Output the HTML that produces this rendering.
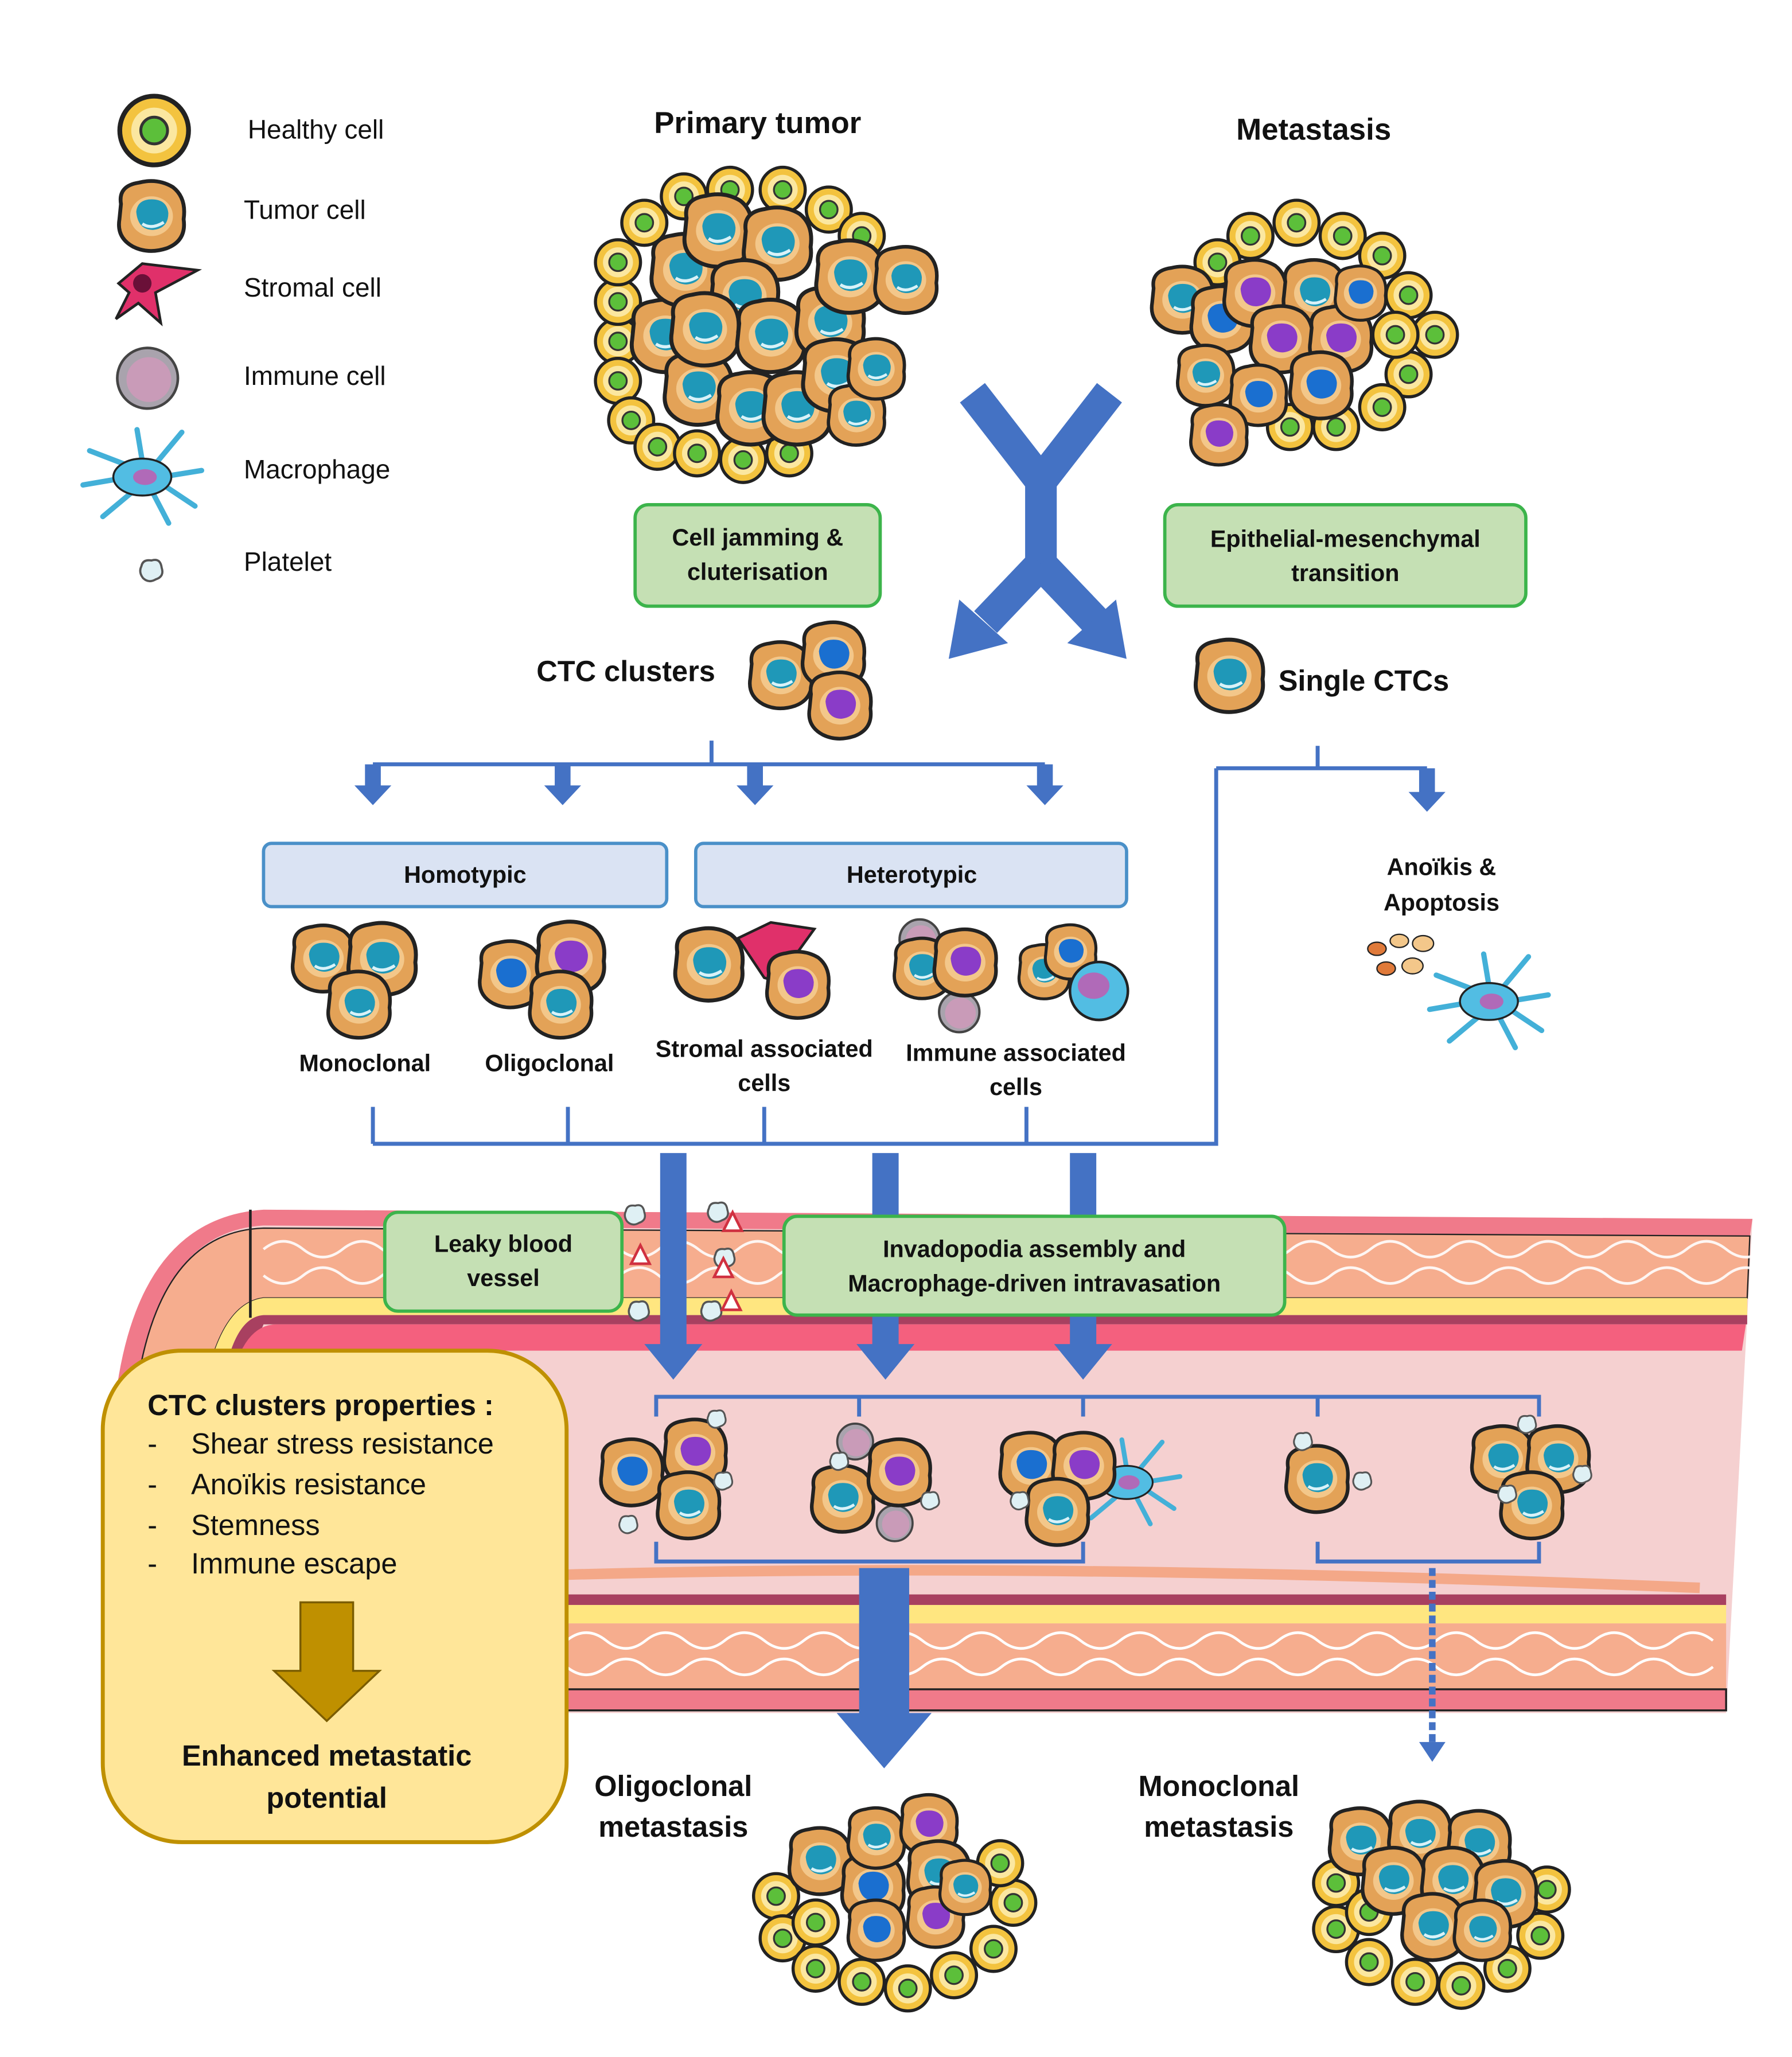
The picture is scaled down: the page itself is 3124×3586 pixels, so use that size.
<!DOCTYPE html>
<html><head><meta charset="utf-8"><style>html,body{margin:0;padding:0;background:#fff}svg{display:block}text{font-family:"Liberation Sans",sans-serif;fill:#111}</style></head>
<body>
<svg width="3124" height="3586" viewBox="0 0 1360 1561" xmlns="http://www.w3.org/2000/svg">
<defs>
<symbol id="h" viewBox="-20 -20 40 40"><circle r="18" fill="#f3c33f" stroke="#222" stroke-width="2.5"/><circle r="12" fill="#fbe7a0"/><circle r="7" fill="#5cbf3a" stroke="#333" stroke-width="1.5"/></symbol>
<symbol id="t" viewBox="-25 -25 50 50"><path d="M-20,-8 Q-22,-20 -8,-22 Q4,-25 14,-19 Q23,-12 21,2 Q23,16 10,21 Q-2,25 -12,20 Q-23,14 -21,2 Z" fill="#e3a257" stroke="#222" stroke-width="2.5"/><ellipse cx="0" cy="0" rx="14" ry="13" fill="#f3c78a"/><path d="M-10,-3 Q-9,-11 0,-11 Q10,-11 11,-2 Q11,8 1,9 Q-9,9 -10,-3Z" fill="#1f98b8"/><path d="M-6,5 Q0,9 8,4" stroke="#d9f2f8" stroke-width="2" fill="none"/></symbol>
<symbol id="tb" viewBox="-25 -25 50 50"><path d="M-20,-8 Q-22,-20 -8,-22 Q4,-25 14,-19 Q23,-12 21,2 Q23,16 10,21 Q-2,25 -12,20 Q-23,14 -21,2 Z" fill="#e3a257" stroke="#222" stroke-width="2.5"/><ellipse cx="0" cy="0" rx="14" ry="13" fill="#f3c78a"/><path d="M-10,-3 Q-9,-11 0,-11 Q10,-11 11,-2 Q11,8 1,9 Q-9,9 -10,-3Z" fill="#1a6fd0"/></symbol>
<symbol id="tp" viewBox="-25 -25 50 50"><path d="M-20,-8 Q-22,-20 -8,-22 Q4,-25 14,-19 Q23,-12 21,2 Q23,16 10,21 Q-2,25 -12,20 Q-23,14 -21,2 Z" fill="#e3a257" stroke="#222" stroke-width="2.5"/><ellipse cx="0" cy="0" rx="14" ry="13" fill="#f3c78a"/><path d="M-10,-3 Q-9,-11 0,-11 Q10,-11 11,-2 Q11,8 1,9 Q-9,9 -10,-3Z" fill="#8a3cc8"/></symbol>
<symbol id="im" viewBox="-20 -20 40 40"><circle r="17" fill="#a9a3ad" stroke="#444" stroke-width="2"/><circle r="13" cx="1" cy="1" fill="#c99bb8"/></symbol>
<symbol id="pl" viewBox="-10 -10 20 20"><path d="M-7,-3 Q-6,-8 0,-7 Q6,-9 7,-2 Q9,4 3,6 Q-2,9 -6,5 Q-9,1 -7,-3Z" fill="#dff0f4" stroke="#555" stroke-width="1.5"/></symbol>
<symbol id="mac" viewBox="-50 -40 100 80"><path d="M-14,-10 L-40,-20 M-10,0 L-45,6 M-6,10 L-30,30 M8,12 L20,35 M14,0 L45,-5 M10,-10 L30,-34 M0,-12 L-4,-36 M16,6 L40,22" stroke="#43b0d8" stroke-width="4" stroke-linecap="round"/><ellipse rx="22" ry="14" fill="#52bde3" stroke="#222" stroke-width="1.5"/><ellipse cx="2" rx="9" ry="6" fill="#b06ab8"/></symbol>
</defs>

<!-- Legend -->
<use href="#h" x="88" y="70" width="58" height="58"/>
<use href="#t" x="86" y="135" width="58" height="58"/>
<path d="M90,215 L108,200 L150,205 L118,222 L122,245 L105,230 L88,242 L98,222Z" fill="#e0306a" stroke="#222" stroke-width="2"/><circle cx="108" cy="215" r="7" fill="#6a1038"/>
<circle cx="112" cy="287" r="23" fill="#a9a3ad" stroke="#444" stroke-width="2"/><circle cx="113" cy="288" r="17" fill="#c99bb8"/>
<use href="#mac" x="58" y="322" width="100" height="80"/>
<use href="#pl" x="104" y="422" width="22" height="22"/>
<g font-size="20"><text x="188" y="105">Healthy cell</text><text x="185" y="166">Tumor cell</text><text x="185" y="225">Stromal cell</text><text x="185" y="292">Immune cell</text><text x="185" y="363">Macrophage</text><text x="185" y="433">Platelet</text></g>

<g font-weight="bold" font-size="23"><text x="575" y="101" text-anchor="middle">Primary tumor</text><text x="997" y="106" text-anchor="middle">Metastasis</text></g>

<!-- Primary tumor -->
<g>
<use href="#h" x="450" y="240" width="38" height="38"/><use href="#h" x="450" y="270" width="38" height="38"/><use href="#h" x="460" y="300" width="38" height="38"/><use href="#h" x="480" y="320" width="38" height="38"/><use href="#h" x="510" y="325" width="38" height="38"/><use href="#h" x="545" y="330" width="38" height="38"/><use href="#h" x="580" y="325" width="38" height="38"/><use href="#h" x="450" y="210" width="38" height="38"/><use href="#h" x="450" y="180" width="38" height="38"/><use href="#h" x="470" y="150" width="38" height="38"/><use href="#h" x="500" y="130" width="38" height="38"/><use href="#h" x="535" y="125" width="38" height="38"/><use href="#h" x="575" y="125" width="38" height="38"/><use href="#h" x="610" y="140" width="38" height="38"/><use href="#h" x="635" y="160" width="38" height="38"/>
<use href="#t" x="475" y="225" width="60" height="60"/><use href="#t" x="500" y="265" width="60" height="60"/><use href="#t" x="540" y="280" width="60" height="60"/><use href="#t" x="575" y="280" width="60" height="60"/><use href="#t" x="490" y="175" width="60" height="60"/><use href="#t" x="515" y="145" width="60" height="60"/><use href="#t" x="560" y="155" width="60" height="60"/><use href="#t" x="535" y="195" width="60" height="60"/><use href="#t" x="505" y="220" width="60" height="60"/><use href="#t" x="555" y="225" width="60" height="60"/><use href="#t" x="600" y="215" width="60" height="60"/><use href="#t" x="615" y="180" width="60" height="60"/><use href="#t" x="605" y="255" width="60" height="60"/><use href="#t" x="625" y="290" width="50" height="50"/><use href="#t" x="640" y="255" width="50" height="50"/><use href="#t" x="660" y="185" width="55" height="55"/>
</g>
<!-- Metastasis -->
<g>
<use href="#h" x="930" y="160" width="38" height="38"/><use href="#h" x="965" y="150" width="38" height="38"/><use href="#h" x="1000" y="160" width="38" height="38"/><use href="#h" x="1030" y="175" width="38" height="38"/><use href="#h" x="1050" y="205" width="38" height="38"/><use href="#h" x="1070" y="235" width="38" height="38"/><use href="#h" x="1050" y="265" width="38" height="38"/><use href="#h" x="1030" y="290" width="38" height="38"/><use href="#h" x="995" y="305" width="38" height="38"/><use href="#h" x="960" y="305" width="38" height="38"/><use href="#h" x="905" y="180" width="38" height="38"/><use href="#h" x="1040" y="235" width="38" height="38"/>
<use href="#t" x="870" y="200" width="55" height="55"/><use href="#tb" x="900" y="215" width="55" height="55"/><use href="#tp" x="925" y="195" width="55" height="55"/><use href="#t" x="970" y="195" width="55" height="55"/><use href="#tp" x="945" y="230" width="55" height="55"/><use href="#tp" x="990" y="230" width="55" height="55"/><use href="#tb" x="975" y="265" width="55" height="55"/><use href="#t" x="890" y="260" width="50" height="50"/><use href="#tb" x="930" y="275" width="50" height="50"/><use href="#tp" x="900" y="305" width="50" height="50"/><use href="#tb" x="1010" y="200" width="45" height="45"/>
</g>

<g fill="#c5e0b4" stroke="#3cb44b" stroke-width="2.5"><rect x="482" y="383" width="186" height="77" rx="10"/><rect x="884" y="383" width="274" height="77" rx="10"/></g>
<g font-weight="bold" font-size="18" text-anchor="middle"><text x="575" y="414">Cell jamming &amp;</text><text x="575" y="440">cluterisation</text><text x="1021" y="415">Epithelial-mesenchymal</text><text x="1021" y="441">transition</text></g>

<g stroke="#4472c4" stroke-width="24" fill="none" stroke-linejoin="miter"><path d="M738,298 L790,365 L842,298"/><path d="M790,360 L790,430"/><path d="M790,428 L748,472 M790,428 L832,472"/></g>
<g fill="#4472c4"><path d="M720,500 L728,455 L765,488Z"/><path d="M855,500 L847,455 L810,488Z"/></g>

<text x="475" y="517" font-weight="bold" font-size="22" text-anchor="middle">CTC clusters</text>
<use href="#t" x="565" y="485" width="55" height="55"/><use href="#tb" x="605" y="470" width="55" height="55"/><use href="#tp" x="610" y="508" width="55" height="55"/>
<use href="#t" x="903" y="483" width="60" height="60"/>
<text x="1035" y="524" font-weight="bold" font-size="22" text-anchor="middle">Single CTCs</text>

<g stroke="#4472c4" stroke-width="3" fill="none"><path d="M540,562 V580 M283,580 H793 M1000,566 V583 M923,583 H1083 M923,583 V868 H283 M283,840 V868 M431,840 V868 M580,840 V868 M779,840 V868"/></g>
<g fill="#4472c4"><path d="M277,580 h12 v16 h8 l-14,15 l-14,-15 h8z"/><path d="M421,580 h12 v16 h8 l-14,15 l-14,-15 h8z"/><path d="M567,580 h12 v16 h8 l-14,15 l-14,-15 h8z"/><path d="M787,580 h12 v16 h8 l-14,15 l-14,-15 h8z"/><path d="M1077,583 h12 v18 h8 l-14,15 l-14,-15 h8z"/></g>

<g fill="#dae3f3" stroke="#4a90c8" stroke-width="2.5"><rect x="200" y="640" width="306" height="48" rx="6"/><rect x="528" y="640" width="327" height="48" rx="6"/></g>
<g font-weight="bold" font-size="18" text-anchor="middle"><text x="353" y="670">Homotypic</text><text x="692" y="670">Heterotypic</text>
<text x="277" y="813">Monoclonal</text><text x="417" y="813">Oligoclonal</text><text x="580" y="802">Stromal associated</text><text x="580" y="828">cells</text><text x="771" y="805">Immune associated</text><text x="771" y="831">cells</text><text x="1094" y="664">Anoïkis &amp;</text><text x="1094" y="691">Apoptosis</text></g>

<use href="#t" x="218" y="700" width="55" height="55"/><use href="#t" x="260" y="698" width="60" height="60"/><use href="#t" x="245" y="735" width="55" height="55"/>
<use href="#tb" x="360" y="712" width="55" height="55"/><use href="#tp" x="403" y="697" width="60" height="60"/><use href="#t" x="398" y="735" width="55" height="55"/>
<path d="M560,712 L585,700 L618,705 L600,730 L615,752 L580,742 Z" fill="#e0306a" stroke="#222" stroke-width="2"/>
<use href="#t" x="508" y="702" width="60" height="60"/><use href="#tp" x="578" y="720" width="55" height="55"/>
<use href="#im" x="680" y="695" width="36" height="36"/><use href="#im" x="710" y="750" width="36" height="36"/><use href="#t" x="675" y="710" width="50" height="50"/><use href="#tp" x="705" y="703" width="55" height="55"/>
<use href="#t" x="770" y="715" width="45" height="45"/><use href="#tb" x="790" y="700" width="45" height="45"/><circle cx="834" cy="752" r="22" fill="#52bde3" stroke="#222" stroke-width="2"/><ellipse cx="830" cy="748" rx="12" ry="10" fill="#b06ab8"/>
<g fill="#e07a3a" stroke="#222" stroke-width="1"><ellipse cx="1045" cy="720" rx="7" ry="5"/><ellipse cx="1062" cy="714" rx="7" ry="5" fill="#f3c78a"/><ellipse cx="1080" cy="716" rx="8" ry="6" fill="#f3c78a"/><ellipse cx="1052" cy="735" rx="7" ry="5"/><ellipse cx="1072" cy="733" rx="8" ry="6" fill="#f3c78a"/></g>
<use href="#mac" x="1075" y="720" width="110" height="80"/>

<!-- Vessel -->
<path d="M85,1090 Q95,925 200,918 L1330,925 L1310,1300 L430,1300 L430,1210 L85,1210Z" fill="#f5d0d0"/>
<path d="M85,1090 Q95,925 200,918 L1330,925 L1328,938 L200,930 Q110,935 100,1090Z" fill="#f07a8a"/>
<path d="M100,1090 Q110,935 200,932 L1328,938 L1326,985 L200,985 Q160,990 150,1090Z" fill="#f6ad8e" stroke="#222" stroke-width="1"/>
<g stroke="#fff" stroke-width="2" fill="none" opacity="0.9"><path d="M200,948 q15,-12 30,0 t30,0 t30,0 t30,0 t30,0 t30,0 t30,0 t30,0 t30,0 t30,0 t30,0 t30,0 t30,0 t30,0 t30,0 t30,0 t30,0 t30,0 t30,0 t30,0 t30,0 t30,0 t30,0 t30,0 t30,0 t30,0 t30,0 t30,0 t30,0 t30,0 t30,0 t30,0 t30,0 t30,0 t30,0 t30,0 t30,0 t30,0"/><path d="M200,968 q15,12 30,0 t30,0 t30,0 t30,0 t30,0 t30,0 t30,0 t30,0 t30,0 t30,0 t30,0 t30,0 t30,0 t30,0 t30,0 t30,0 t30,0 t30,0 t30,0 t30,0 t30,0 t30,0 t30,0 t30,0 t30,0 t30,0 t30,0 t30,0 t30,0 t30,0 t30,0 t30,0 t30,0 t30,0 t30,0 t30,0 t30,0 t30,0"/></g>
<path d="M150,1090 Q160,990 200,985 L1326,985 L1326,998 L200,998 Q170,1000 165,1090Z" fill="#ffe680"/>
<path d="M165,1090 Q170,1000 200,998 L1326,998 L1326,1005 L200,1005Z" fill="#a84060"/>
<path d="M170,1090 Q175,1005 210,1005 L1325,1005 L1322,1025 L220,1025 Q190,1030 185,1090Z" fill="#f4607e"/>
<line x1="190" y1="918" x2="190" y2="1000" stroke="#222" stroke-width="2"/>
<path d="M430,1195 Q800,1185 1290,1205" stroke="#f4a888" stroke-width="8" fill="none"/>
<rect x="430" y="1210" width="880" height="8" fill="#a84060"/>
<rect x="430" y="1218" width="880" height="14" fill="#ffe680"/>
<rect x="430" y="1232" width="880" height="50" fill="#f6ad8e"/>
<g stroke="#fff" stroke-width="2" fill="none"><path d="M430,1245 q15,-12 30,0 t30,0 t30,0 t30,0 t30,0 t30,0 t30,0 t30,0 t30,0 t30,0 t30,0 t30,0 t30,0 t30,0 t30,0 t30,0 t30,0 t30,0 t30,0 t30,0 t30,0 t30,0 t30,0 t30,0 t30,0 t30,0 t30,0 t30,0 t30,0"/><path d="M430,1265 q15,12 30,0 t30,0 t30,0 t30,0 t30,0 t30,0 t30,0 t30,0 t30,0 t30,0 t30,0 t30,0 t30,0 t30,0 t30,0 t30,0 t30,0 t30,0 t30,0 t30,0 t30,0 t30,0 t30,0 t30,0 t30,0 t30,0 t30,0 t30,0 t30,0"/></g>
<rect x="430" y="1282" width="880" height="16" fill="#f07a8a" stroke="#222" stroke-width="1.5"/>

<g><use href="#pl" x="472" y="912" width="20" height="20"/><use href="#pl" x="475" y="985" width="20" height="20"/><use href="#pl" x="535" y="910" width="20" height="20"/><use href="#pl" x="540" y="945" width="20" height="20"/><use href="#pl" x="530" y="985" width="20" height="20"/><path d="M556,920 l7,14 h-14z M549,955 l7,14 h-14z M555,980 l7,14 h-14z M486,945 l7,14 h-14z" fill="#fff" stroke="#d03040" stroke-width="2"/></g>

<!-- thick arrows (behind boxes) -->
<g fill="#4472c4"><path d="M501,875 h20 v145 h12 l-22,27 l-22,-27 h12z"/><path d="M662,875 h20 v145 h12 l-22,27 l-22,-27 h12z"/><path d="M812,875 h20 v145 h12 l-22,27 l-22,-27 h12z"/></g>

<g fill="#c5e0b4" stroke="#3cb44b" stroke-width="2.5"><rect x="292" y="920" width="180" height="75" rx="10"/><rect x="595" y="923" width="380" height="75" rx="10"/></g>
<g font-weight="bold" font-size="18" text-anchor="middle"><text x="382" y="950">Leaky blood</text><text x="382" y="976">vessel</text><text x="785" y="954">Invadopodia assembly and</text><text x="785" y="980">Macrophage-driven intravasation</text></g>

<g stroke="#4472c4" stroke-width="3" fill="none"><path d="M498,1075 V1060 H1168 V1075 M652,1060 V1075 M822,1060 V1075 M1000,1060 V1075 M498,1170 V1185 H822 V1170 M1000,1170 V1185 H1168 V1170"/></g>
<path d="M652,1190 h38 v110 h17 l-36,42 l-36,-42 h17z" fill="#4472c4"/>
<line x1="1087" y1="1190" x2="1087" y2="1325" stroke="#4472c4" stroke-width="5" stroke-dasharray="6,3"/>
<path d="M1077,1322 h20 l-10,15z" fill="#4472c4"/>

<use href="#tb" x="452" y="1090" width="55" height="55"/><use href="#tp" x="500" y="1075" width="55" height="55"/><use href="#t" x="495" y="1115" width="55" height="55"/>
<use href="#im" x="633" y="1078" width="32" height="32"/><use href="#im" x="663" y="1140" width="32" height="32"/><use href="#t" x="612" y="1110" width="55" height="55"/><use href="#tp" x="655" y="1090" width="55" height="55"/>
<use href="#mac" x="810" y="1070" width="90" height="110"/>
<use href="#tb" x="755" y="1085" width="55" height="55"/><use href="#tp" x="795" y="1085" width="55" height="55"/><use href="#t" x="775" y="1120" width="55" height="55"/>
<use href="#t" x="972" y="1095" width="55" height="55"/>
<use href="#t" x="1113" y="1080" width="55" height="55"/><use href="#t" x="1155" y="1080" width="55" height="55"/><use href="#t" x="1135" y="1115" width="55" height="55"/>
<g><use href="#pl" x="535" y="1068" width="18" height="18"/><use href="#pl" x="540" y="1115" width="18" height="18"/><use href="#pl" x="468" y="1148" width="18" height="18"/><use href="#pl" x="628" y="1100" width="18" height="18"/><use href="#pl" x="697" y="1130" width="18" height="18"/><use href="#pl" x="765" y="1130" width="18" height="18"/><use href="#pl" x="980" y="1085" width="18" height="18"/><use href="#pl" x="1025" y="1115" width="18" height="18"/><use href="#pl" x="1150" y="1072" width="18" height="18"/><use href="#pl" x="1192" y="1110" width="18" height="18"/><use href="#pl" x="1135" y="1125" width="18" height="18"/></g>

<rect x="78" y="1025" width="352" height="373" rx="60" fill="#ffe699" stroke="#bf9000" stroke-width="3"/>
<text x="112" y="1074" font-weight="bold" font-size="22">CTC clusters properties :</text>
<g font-size="22"><text x="112" y="1103">-</text><text x="145" y="1103">Shear stress resistance</text><text x="112" y="1134">-</text><text x="145" y="1134">Anoïkis resistance</text><text x="112" y="1165">-</text><text x="145" y="1165">Stemness</text><text x="112" y="1194">-</text><text x="145" y="1194">Immune escape</text></g>
<path d="M228,1216 h40 v52 h20 l-40,38 l-40,-38 h20z" fill="#bf9000" stroke="#7a5c00" stroke-width="1.5"/>
<g font-weight="bold" font-size="22" text-anchor="middle"><text x="248" y="1340">Enhanced metastatic</text><text x="248" y="1372">potential</text>
<text x="511" y="1363">Oligoclonal</text><text x="511" y="1394">metastasis</text><text x="925" y="1363">Monoclonal</text><text x="925" y="1394">metastasis</text></g>

<g>
<use href="#h" x="570" y="1420" width="38" height="38"/><use href="#h" x="575" y="1452" width="38" height="38"/><use href="#h" x="600" y="1475" width="38" height="38"/><use href="#h" x="635" y="1485" width="38" height="38"/><use href="#h" x="670" y="1490" width="38" height="38"/><use href="#h" x="705" y="1480" width="38" height="38"/><use href="#h" x="735" y="1460" width="38" height="38"/><use href="#h" x="750" y="1425" width="38" height="38"/><use href="#h" x="740" y="1395" width="38" height="38"/><use href="#h" x="600" y="1440" width="38" height="38"/>
<use href="#t" x="595" y="1385" width="55" height="55"/><use href="#tb" x="635" y="1405" width="55" height="55"/><use href="#t" x="640" y="1370" width="50" height="50"/><use href="#tp" x="680" y="1360" width="50" height="50"/><use href="#t" x="685" y="1395" width="55" height="55"/><use href="#tb" x="640" y="1440" width="50" height="50"/><use href="#tp" x="685" y="1430" width="50" height="50"/><use href="#t" x="710" y="1410" width="45" height="45"/>
</g>
<g>
<use href="#h" x="995" y="1410" width="38" height="38"/><use href="#h" x="995" y="1445" width="38" height="38"/><use href="#h" x="1020" y="1470" width="38" height="38"/><use href="#h" x="1055" y="1485" width="38" height="38"/><use href="#h" x="1090" y="1488" width="38" height="38"/><use href="#h" x="1125" y="1475" width="38" height="38"/><use href="#h" x="1150" y="1450" width="38" height="38"/><use href="#h" x="1155" y="1415" width="38" height="38"/><use href="#h" x="1020" y="1432" width="38" height="38"/>
<use href="#t" x="1005" y="1370" width="55" height="55"/><use href="#t" x="1050" y="1365" width="55" height="55"/><use href="#t" x="1095" y="1372" width="55" height="55"/><use href="#t" x="1030" y="1400" width="55" height="55"/><use href="#t" x="1075" y="1400" width="55" height="55"/><use href="#t" x="1115" y="1410" width="55" height="55"/><use href="#t" x="1060" y="1435" width="55" height="55"/><use href="#t" x="1100" y="1440" width="50" height="50"/>
</g>
</svg>
</body></html>
